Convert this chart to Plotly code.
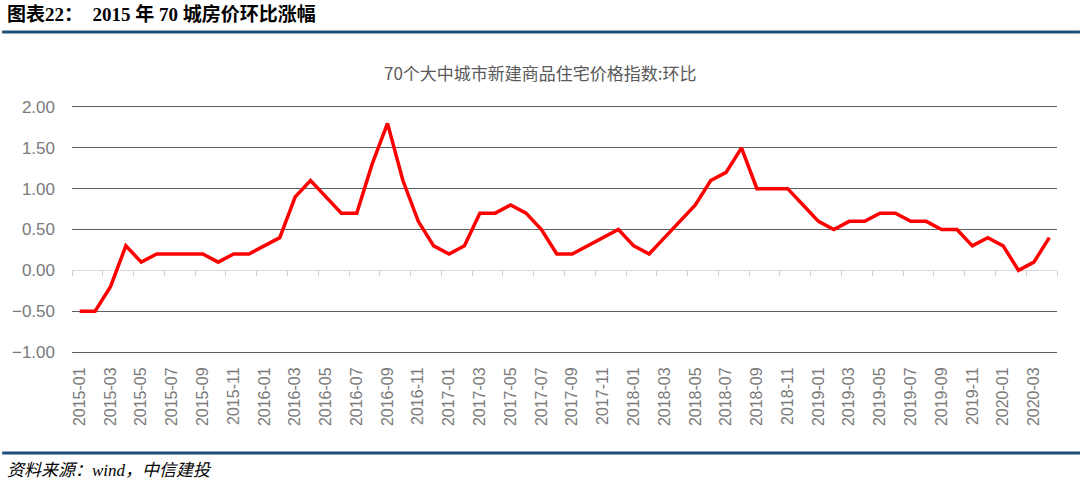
import plotly.graph_objects as go

# ---- data ----
years = [2015, 2016, 2017, 2018, 2019, 2020]
months = [f"{y}-{m:02d}" for y in years for m in range(1, 13)][:64]

mom_change = [
    -0.5, -0.5, -0.2, 0.3, 0.1, 0.2, 0.2, 0.2, 0.2, 0.1, 0.2, 0.2,   # 2015
    0.3, 0.4, 0.9, 1.1, 0.9, 0.7, 0.7, 1.3, 1.8, 1.1, 0.6, 0.3,      # 2016
    0.2, 0.3, 0.7, 0.7, 0.8, 0.7, 0.5, 0.2, 0.2, 0.3, 0.4, 0.5,      # 2017
    0.3, 0.2, 0.4, 0.6, 0.8, 1.1, 1.2, 1.5, 1.0, 1.0, 1.0, 0.8,      # 2018
    0.6, 0.5, 0.6, 0.6, 0.7, 0.7, 0.6, 0.6, 0.5, 0.5, 0.3, 0.4,      # 2019
    0.3, 0.0, 0.1, 0.4,                                              # 2020
]
tick_labels = months[::2]
y_ticks = [-1.0, -0.5, 0.0, 0.5, 1.0, 1.5, 2.0]

chart_title = "70个大中城市新建商品住宅价格指数:环比"
header = "图表22：  2015 年 70 城房价环比涨幅"
source = "资料来源：wind，中信建投"

# ---- layout geometry (pixels) ----
W, H = 1080, 483
L, R, T, B = 70, 23, 107, 131
PW, PH = W - L - R, H - T - B


def px(x):
    return (x - L) / PW


def py(y):
    return (H - B - y) / PH


GRID = "#5f5f5f"

fig = go.Figure()

# invisible trace to activate the zero-axis (tick marks at y=0)
fig.add_trace(go.Scatter(x=months, y=mom_change, xaxis="x2", mode="lines",
                         line=dict(width=0, color="rgba(0,0,0,0)"),
                         hoverinfo="skip", showlegend=False))

fig.add_trace(go.Scatter(x=months, y=mom_change, mode="lines",
                         line=dict(color="#FF0000", width=3.5),
                         showlegend=False))

fig.update_layout(
    width=W, height=H,
    margin=dict(l=L, r=R, t=T, b=B),
    plot_bgcolor="white", paper_bgcolor="white",
    font=dict(family="Liberation Sans, Arial, Noto Sans CJK SC", color="#7f7f7f"),
    xaxis=dict(
        type="category", range=[-0.5, 63.5],
        tickmode="array", tickvals=tick_labels, ticktext=tick_labels,
        tickangle=-90, tickfont=dict(size=16, color="#7a7a7a"),
        showgrid=False, showline=True, mirror=True,
        linecolor=GRID, linewidth=1, ticks="", zeroline=False,
        ticklabelstandoff=8,
    ),
    xaxis2=dict(
        type="category", range=[-0.5, 63.5], overlaying="x",
        anchor="free", position=py(H - B - PH / 3),
        showline=True, linecolor="#d9d9d9", linewidth=1,
        ticks="outside", ticklen=5, tickcolor="#d0d0d0", tickwidth=1,
        tickson="boundaries", tickmode="linear", tick0=0, dtick=2,
        showticklabels=False, showgrid=False, zeroline=False,
        layer="below traces",
    ),
    yaxis=dict(
        range=[-1, 2], tickmode="array", tickvals=y_ticks,
        tickformat=".2f", tickfont=dict(size=17, color="#7a7a7a"),
        showgrid=True, gridcolor=GRID, gridwidth=1,
        zeroline=True, zerolinecolor="#d9d9d9", zerolinewidth=1,
        showline=False, ticks="", ticklabelstandoff=16,
    ),
    shapes=[
        dict(type="line", xref="paper", yref="paper",
             x0=px(0), x1=px(W), y0=py(32), y1=py(32),
             line=dict(color="#1F4E79", width=3)),
        dict(type="line", xref="paper", yref="paper",
             x0=px(0), x1=px(W), y0=py(453), y1=py(453),
             line=dict(color="#1F4E79", width=3)),
    ],
    annotations=[
        dict(text=f"<b>{header}</b>", xref="paper", yref="paper",
             x=px(3), y=py(14), xanchor="left", yanchor="middle",
             showarrow=False,
             font=dict(family="Liberation Serif, Noto Sans CJK SC", size=19, color="#000000")),
        dict(text=chart_title, xref="paper", yref="paper",
             x=px(539), y=py(72), xanchor="center", yanchor="middle",
             showarrow=False,
             font=dict(family="Noto Sans CJK SC", size=17, color="#595959")),
        dict(text=f"<i>{source}</i>", xref="paper", yref="paper",
             x=px(3), y=py(470), xanchor="left", yanchor="middle",
             showarrow=False,
             font=dict(family="Liberation Serif, Noto Sans CJK SC", size=17, color="#000000")),
    ],
)

fig.write_html("out.html")
